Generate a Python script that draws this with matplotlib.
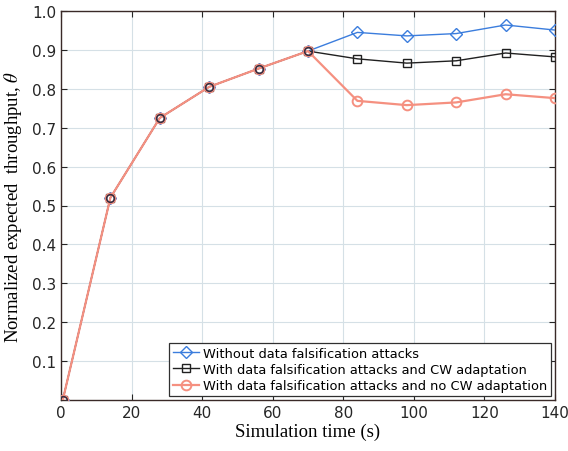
import matplotlib
matplotlib.use("Agg")
import matplotlib.pyplot as plt

time_s = [0.5, 14, 28, 42, 56, 70, 84, 98, 112, 126, 140]
no_attack = [0.0, 0.52, 0.725, 0.805, 0.852, 0.897, 0.945, 0.936, 0.942, 0.964, 0.951]
cw_adapt = [0.0, 0.52, 0.725, 0.805, 0.852, 0.897, 0.877, 0.866, 0.872, 0.892, 0.882]
no_cw_adapt = [0.0, 0.52, 0.725, 0.805, 0.852, 0.897, 0.769, 0.758, 0.765, 0.786, 0.776]

xticks = [0, 20, 40, 60, 80, 100, 120, 140]
yticks = [0.1, 0.2, 0.3, 0.4, 0.5, 0.6, 0.7, 0.8, 0.9, 1.0]

plt.rcParams["mathtext.fontset"] = "stix"

fig = plt.figure(figsize=(5.68, 4.52), dpi=100)
ax = fig.add_axes([61 / 568, 1 - 401 / 452, (555 - 61) / 568, (401 - 12) / 452])

ax.plot(time_s, no_attack, color="#3b7ddd", marker="D", markersize=6, markerfacecolor="none",
        linewidth=1.0, label="Without data falsification attacks", zorder=3)
ax.plot(time_s, cw_adapt, color="#202020", marker="s", markersize=6, markerfacecolor="none",
        linewidth=1.0, label="With data falsification attacks and CW adaptation", zorder=3)
ax.plot(time_s, no_cw_adapt, color="#f59080", marker="o", markersize=7, markerfacecolor="none",
        markeredgewidth=1.4, linewidth=1.6, label="With data falsification attacks and no CW adaptation",
        zorder=4)
# early points where all three curves coincide: small dark circles on the red line
ax.plot(time_s[:6], no_cw_adapt[:6], linestyle="none", marker="o", markersize=5.5,
        markerfacecolor="none", markeredgecolor="#3a2e40", markeredgewidth=1.2, zorder=5)

ax.set_xlim(0, 140)
ax.set_ylim(0, 1.0)
ax.set_xticks(xticks)
ax.set_yticks(yticks)
ax.set_yticklabels([f"{v:.1f}" for v in yticks])
ax.grid(True, color="#d5e0e6", linewidth=0.8)
ax.set_axisbelow(True)
ax.tick_params(direction="in", top=True, right=True, labelsize=11, colors="#262626", length=4)
for s in ax.spines.values():
    s.set_color("#3a2a28")
    s.set_linewidth(1.0)

ax.set_xlabel("Simulation time (s)", family="Liberation Serif", fontsize=13.5, labelpad=2)
ax.set_ylabel("Normalized expected  throughput, $\\theta$", family="Liberation Serif",
              fontsize=13.5, labelpad=6)

leg = ax.legend(loc="lower right", fontsize=9.4, fancybox=False, framealpha=1,
                edgecolor="#303030", borderaxespad=0.3, handlelength=2.0,
                handletextpad=0.3, borderpad=0.3, labelspacing=0.25)
leg.get_frame().set_linewidth(0.9)

fig.savefig("out.png", dpi=100)
